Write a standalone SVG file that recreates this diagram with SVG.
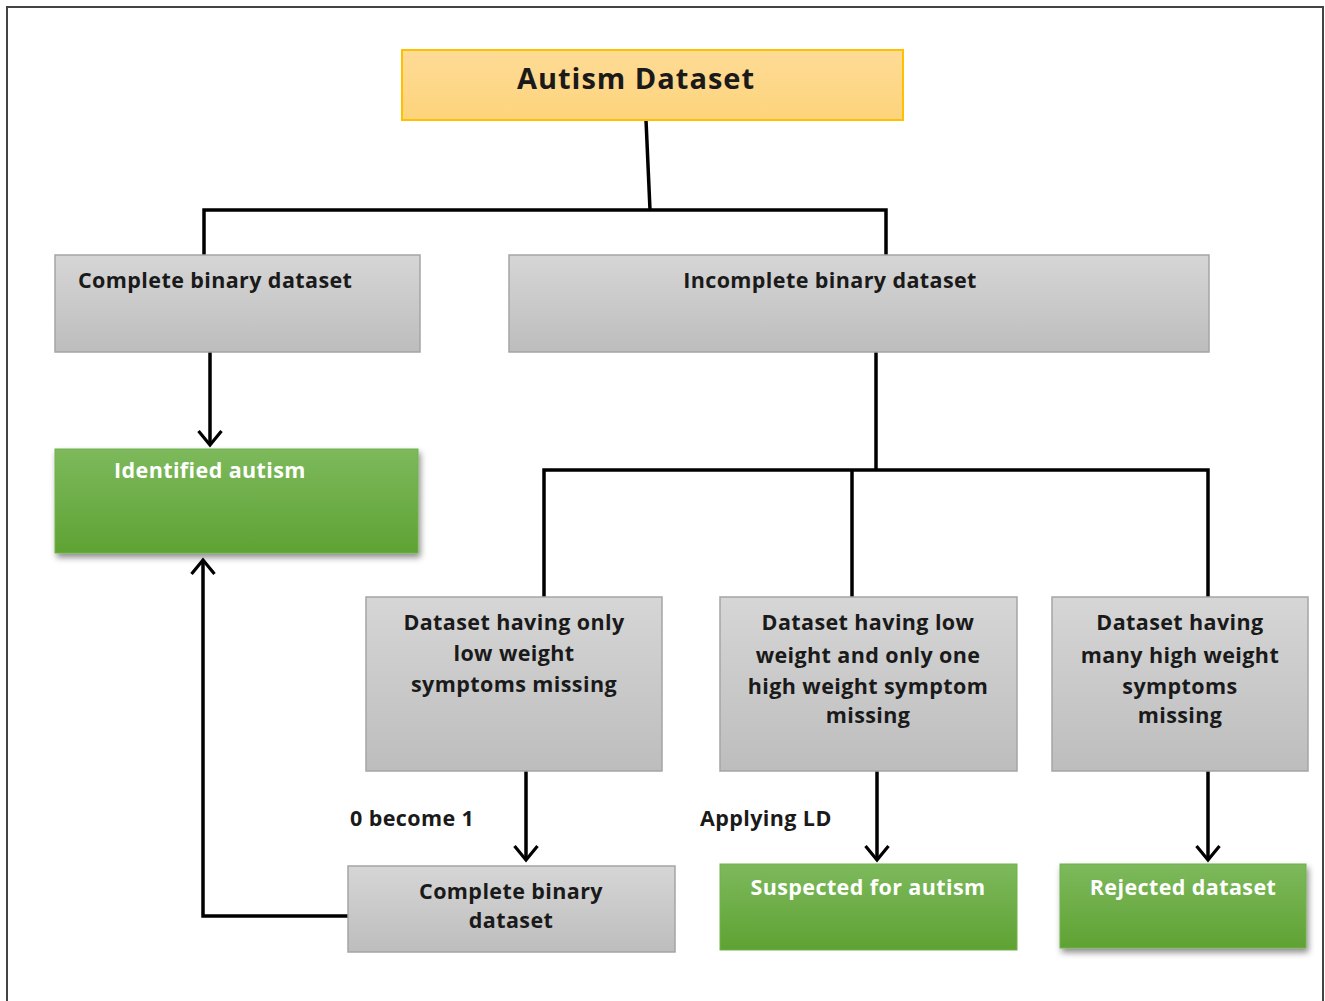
<svg xmlns="http://www.w3.org/2000/svg" width="1325" height="1001" viewBox="0 0 1325 1001">
<defs>
<linearGradient id="gGray" x1="0" y1="0" x2="0" y2="1"><stop offset="0" stop-color="#d6d6d6"/><stop offset="1" stop-color="#bdbdbd"/></linearGradient>
<linearGradient id="gGreen" x1="0" y1="0" x2="0" y2="1"><stop offset="0" stop-color="#7db95c"/><stop offset="1" stop-color="#5fa233"/></linearGradient>
<linearGradient id="gOrange" x1="0" y1="0" x2="0" y2="1"><stop offset="0" stop-color="#fedb96"/><stop offset="1" stop-color="#fdd47c"/></linearGradient>
<filter id="shadow" x="-10%" y="-10%" width="125%" height="130%"><feDropShadow dx="2" dy="4" stdDeviation="3" flood-color="#000" flood-opacity="0.45"/></filter>
<marker id="arr" markerWidth="20" markerHeight="26" refX="17" refY="13" orient="auto" markerUnits="userSpaceOnUse" viewBox="0 0 20 26">
<path d="M3,1.5 L17,13 L3,24.5" fill="none" stroke="#000" stroke-width="3.2"/>
</marker>
<style>
.gray{fill:url(#gGray);stroke:#a5a5a5;stroke-width:1.5}
.green{fill:url(#gGreen);stroke:#71b14b;stroke-width:1}
.t{font-family:"Open Sans","Noto Sans",sans-serif;font-weight:700;font-size:21.5px;letter-spacing:0.4px;fill:#1a1a1a}
.w{fill:#ffffff}
.c{text-anchor:middle}
.ln{fill:none;stroke:#000;stroke-width:3.5}
</style>
</defs>
<rect x="0" y="0" width="1325" height="1001" fill="#ffffff"/>
<rect x="7" y="7" width="1316" height="996" fill="none" stroke="#444" stroke-width="2"/>
<g id="connectors">
<path class="ln" d="M646,120 L650,210"/>
<path class="ln" d="M204,255 L204,210 L886,210 L886,255"/>
<path class="ln" d="M210,352 L210,445" marker-end="url(#arr)"/>
<path class="ln" d="M876,352 L876,470"/>
<path class="ln" d="M544,597 L544,470 L1208,470 L1208,597"/>
<path class="ln" d="M852,470 L852,597"/>
<path class="ln" d="M526,771 L526,860" marker-end="url(#arr)"/>
<path class="ln" d="M877,771 L877,860" marker-end="url(#arr)"/>
<path class="ln" d="M1208,771 L1208,860" marker-end="url(#arr)"/>
<path class="ln" d="M348,916 L203,916 L203,560" marker-end="url(#arr)"/>
<text class="t" x="350" y="826">0 become 1</text>
<text class="t" x="700" y="826">Applying LD</text>
</g>
<g id="autism-dataset">
<rect x="402" y="50" width="501" height="70" fill="url(#gOrange)" stroke="#ffc000" stroke-width="2"/>
<text class="t" x="636" y="89" style="font-size:29px;letter-spacing:1px" text-anchor="middle">Autism Dataset</text>
</g>
<g id="complete-binary">
<rect class="gray" x="55" y="255" width="365" height="97"/>
<text class="t" x="78" y="288">Complete binary dataset</text>
</g>
<g id="incomplete-binary">
<rect class="gray" x="509" y="255" width="700" height="97"/>
<text class="t c" x="830" y="288">Incomplete binary dataset</text>
</g>
<g id="identified-autism">
<rect class="green" x="55" y="449" width="363" height="104" filter="url(#shadow)"/>
<text class="t w" x="114" y="478">Identified autism</text>
</g>
<g id="low-weight">
<rect class="gray" x="366" y="597" width="296" height="174"/>
<text class="t c" x="514" y="630">Dataset having only</text>
<text class="t c" x="514" y="661">low weight</text>
<text class="t c" x="514" y="692">symptoms missing</text>
</g>
<g id="one-high-weight">
<rect class="gray" x="720" y="597" width="297" height="174"/>
<text class="t c" x="868" y="630">Dataset having low</text>
<text class="t c" x="868" y="663">weight and only one</text>
<text class="t c" x="868" y="694">high weight symptom</text>
<text class="t c" x="868" y="723">missing</text>
</g>
<g id="many-high-weight">
<rect class="gray" x="1052" y="597" width="256" height="174"/>
<text class="t c" x="1180" y="630">Dataset having</text>
<text class="t c" x="1180" y="663">many high weight</text>
<text class="t c" x="1180" y="694">symptoms</text>
<text class="t c" x="1180" y="723">missing</text>
</g>
<g id="complete-binary-2">
<rect class="gray" x="348" y="866" width="327" height="86"/>
<text class="t c" x="511" y="899">Complete binary</text>
<text class="t c" x="511" y="928">dataset</text>
</g>
<g id="suspected">
<rect class="green" x="720" y="864" width="297" height="86"/>
<text class="t c w" x="868" y="895">Suspected for autism</text>
</g>
<g id="rejected">
<rect class="green" x="1060" y="864" width="246" height="84" filter="url(#shadow)"/>
<text class="t c w" x="1183" y="895">Rejected dataset</text>
</g>
</svg>
